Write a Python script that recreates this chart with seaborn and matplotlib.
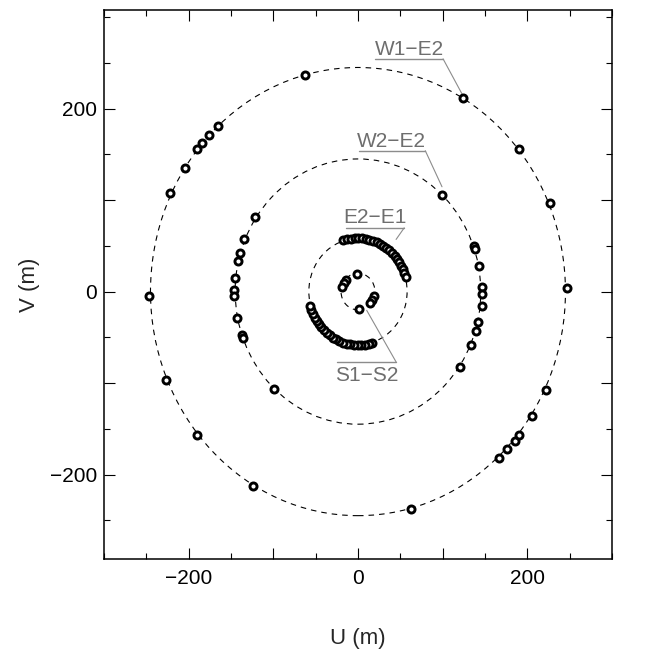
import numpy as np
import pandas as pd
import matplotlib
matplotlib.use("Agg")
import matplotlib.pyplot as plt
from matplotlib.patches import Circle
from matplotlib.ticker import MultipleLocator, FixedFormatter, FixedLocator
import seaborn as sns

# ==================================
# DATA
# ==================================
# W1-E2 baseline
w1e2_u = [-62.4, 124.0, -165.7, -176.3, -184.2, -190.0, -204.7, -221.8, 190.6, 227.0, 246.7,
          -246.4, -226.3, -190.3, -123.7, 62.9, 166.0, 176.3, 185.0, 190.6, 205.2, 221.8]
w1e2_v = [237.3, 212.0, 181.4, 171.5, 162.8, 155.5, 135.4, 107.3, 155.9, 96.4, 4.4,
          -5.1, -97.2, -156.7, -212.5, -238.0, -181.8, -172.0, -162.9, -156.3, -135.8, -107.4]

# W2-E2 baseline
w2e2_u = [-121.0, -134.0, -139.2, -142.0, -145.2, -146.0, -146.0, 99.2, 136.8, 137.6, 143.4, 146.6, 146.6,
          121.0, 134.0, 139.6, 142.0, 146.6, -142.6, -137.2, -136.0, -98.8]
w2e2_v = [81.4, 57.6, 42.7, 32.9, 15.3, 2.2, -5.1, 105.8, 49.6, 47.0, 28.0, 5.0, -3.0,
          -82.2, -58.0, -43.1, -33.3, -15.7, -28.9, -47.9, -50.4, -106.3]

# E2-E1 baseline (two arcs)
e2e1_u = [-17.1, -12.9, -8.4, -4.1, 0.3, 4.8, 9.1, 13.5, 17.8, 21.9, 25.9, 29.9, 33.6, 37.1, 40.4,
          43.5, 46.3, 48.9, 51.2, 53.1, 54.9, 56.2,
          17.1, 12.9, 8.4, 4.1, -0.3, -4.8, -9.1, -13.5, -17.8, -21.9, -25.9, -29.9, -33.6, -37.1, -40.4,
          -43.5, -46.3, -48.9, -51.2, -53.1, -54.9, -56.2]
e2e1_v = [55.9, 57.1, 57.9, 58.4, 58.5, 58.3, 57.8, 56.9, 55.7, 54.2, 52.4, 50.3, 47.9, 45.3, 42.3,
          39.1, 35.8, 32.1, 28.4, 24.4, 20.3, 16.1,
          -55.9, -57.1, -57.9, -58.4, -58.5, -58.3, -57.8, -56.9, -55.7, -54.2, -52.4, -50.3, -47.9, -45.3, -42.3,
          -39.1, -35.8, -32.1, -28.4, -24.4, -20.3, -16.1]

# S1-S2 baseline
s1s2_u = [-1.5, -14.5, -17.0, -19.0, 19.0, 17.0, 14.5, 1.5]
s1s2_v = [19.5, 13.0, 9.5, 5.0, -5.0, -9.5, -13.0, -19.5]

baselines = ["W1\u2212E2", "W2\u2212E2", "E2\u2212E1", "S1\u2212S2"]
track_radius = [245, 145, 58, 20]

# label text position, underline (u0, u1, v), leader end point
label_pos = [(60.3, 258.5), (40.0, 158.3), (20.2, 75.0), (10.4, -81.0)]
underline = [(20.0, 100.5, 254.4), (0.8, 79.5, 154.0), (-14.2, 54.6, 69.7), (-24.4, 45.1, -77.1)]
leader_end = [(123.0, 215.8), (99.2, 114.6), (45.0, 57.0), (10.3, -20.5)]
label_va = ["baseline", "baseline", "baseline", "top"]

df = pd.concat([
    pd.DataFrame({"U": w1e2_u, "V": w1e2_v, "baseline": baselines[0]}),
    pd.DataFrame({"U": w2e2_u, "V": w2e2_v, "baseline": baselines[1]}),
    pd.DataFrame({"U": e2e1_u, "V": e2e1_v, "baseline": baselines[2]}),
    pd.DataFrame({"U": s1s2_u, "V": s1s2_v, "baseline": baselines[3]}),
], ignore_index=True)

# ==================================
# STYLE
# ==================================
sns.set_theme(style="ticks")
plt.rcParams["font.family"] = ["Liberation Sans", "DejaVu Sans"]
plt.rcParams["axes.unicode_minus"] = True

fig = plt.figure(figsize=(6.66, 6.57), dpi=100)
ax = fig.add_axes([0.156, 0.149, 0.763, 0.836])

# dashed model tracks
for r in track_radius:
    ax.add_patch(Circle((0, 0), r, fill=False, edgecolor="black",
                        linewidth=0.8, linestyle=(0, (5, 4.5)), zorder=1))

sns.scatterplot(data=df, x="U", y="V", ax=ax, marker="o", s=26,
                facecolor="white", edgecolor="black", linewidth=2.1,
                legend=False, zorder=3)

# annotations
gray_txt = "#6e6e6e"
gray_line = "#8c8c8c"
for name, (tx, ty), (u0, u1, uv), (ex, ey), va in zip(baselines, label_pos, underline, leader_end, label_va):
    ax.text(tx, ty, name, ha="center", va=va, fontsize=15, color=gray_txt, zorder=4)
    ax.plot([u0, u1], [uv, uv], color=gray_line, lw=1.0, zorder=2)
    ax.plot([u1, ex], [uv, ey], color=gray_line, lw=0.8, zorder=2)

# axes
ax.set_xlim(-300, 300)
ax.set_ylim(-292.5, 308)
ax.xaxis.set_major_locator(FixedLocator([-200, -100, 0, 100, 200]))
ax.yaxis.set_major_locator(FixedLocator([-200, -100, 0, 100, 200]))
ax.xaxis.set_major_formatter(FixedFormatter(["\u2212200", "", "0", "", "200"]))
ax.yaxis.set_major_formatter(FixedFormatter(["\u2212200", "", "0", "", "200"]))
ax.xaxis.set_minor_locator(MultipleLocator(50))
ax.yaxis.set_minor_locator(MultipleLocator(50))
ax.tick_params(which="both", direction="in", top=True, right=True, color="black",
               labelsize=15, labelcolor="black")
ax.tick_params(which="major", length=8, width=0.8)
ax.tick_params(which="minor", length=4, width=0.8)
ax.tick_params(axis="x", pad=7)
ax.tick_params(axis="y", pad=5)
for sp in ax.spines.values():
    sp.set_linewidth(1.1)
    sp.set_color("black")

ax.set_xlabel("U (m)", fontsize=16, labelpad=29)
ax.set_ylabel("V (m)", fontsize=16, labelpad=7)

fig.savefig("out.png", dpi=100)
